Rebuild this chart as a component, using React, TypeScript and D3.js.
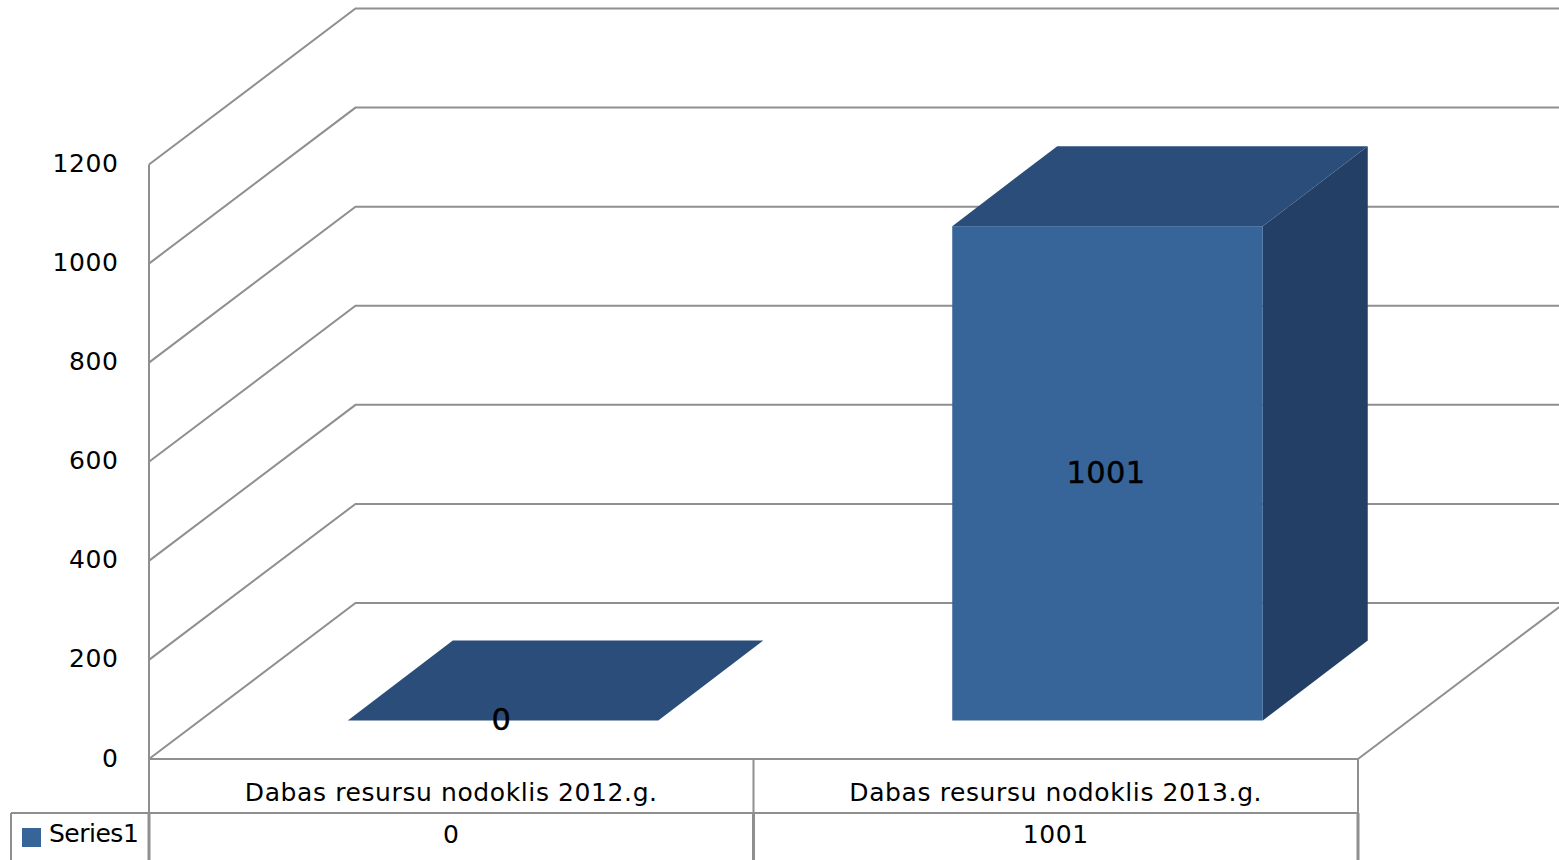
import React from "react";
import * as d3 from "d3";

const categories = ["Dabas resursu nodoklis 2012.g.", "Dabas resursu nodoklis 2013.g."];
const seriesName = "Series1";
const seriesValues = [0, 1001];
const yTicks = [0, 200, 400, 600, 800, 1000, 1200];

const W = 1559;
const H = 860;
const FONT = "'DejaVu Sans', sans-serif";
const GRID = "#8f8f8f";
const FRONT = "#376499";
const TOP = "#2b4d7a";
const SIDE = "#243f66";

// oblique offset of the back wall, and of the bar depth
const wallDx = 206.5;
const wallDy = -156;
const barDx = 105;
const barDy = -80;

const x = d3.scaleBand<string>().domain(categories).range([149, 1358]);
const y = d3.scaleLinear().domain([0, 1200]).range([759, 164.5]);
// bars stand on a floor line nearer the back wall
const barY = d3.scaleLinear().domain([0, 1200]).range([720.5, 127.9]);
const barW = 310.5;
const barShift = 51.75;

const poly = (pts: [number, number][]) => d3.line()(pts) + "Z";

export default function App() {
  const xLeft = x.range()[0];
  const xRight = x.range()[1];
  const y0 = y(0);
  const rowY = 813;

  return (
    <svg
      width={W}
      height={H}
      viewBox={`0 0 ${W} ${H}`}
      style={{ position: "absolute", left: 0, top: 0, background: "#fff" }}
      fontFamily={FONT}
    >
      {/* walls */}
      <g fill="none" stroke={GRID} strokeWidth={2}>
        {yTicks.map((t) => (
          <path
            key={t}
            d={
              d3.line()([
                [xLeft, y(t)],
                [xLeft + wallDx, y(t) + wallDy],
                [xRight + wallDx, y(t) + wallDy],
              ]) as string
            }
          />
        ))}
        <line x1={xLeft} x2={xLeft} y1={y(1200)} y2={rowY} />
        <line x1={xRight} x2={xRight + wallDx} y1={y0} y2={y0 + wallDy} />
      </g>

      {/* bars */}
      {categories.map((c, i) => {
        const cx = (x(c) as number) + x.bandwidth() / 2 + barShift;
        const l = cx - barW / 2;
        const r = cx + barW / 2;
        const b = barY(0);
        const t = barY(seriesValues[i]);
        return (
          <g key={c}>
            <path
              d={poly([
                [r, t],
                [r + barDx, t + barDy],
                [r + barDx, b + barDy],
                [r, b],
              ])}
              fill={SIDE}
            />
            <path
              d={poly([
                [l, t],
                [l + barDx, t + barDy],
                [r + barDx, t + barDy],
                [r, t],
              ])}
              fill={TOP}
            />
            <rect x={l} y={t} width={barW} height={b - t} fill={FRONT} />
            <text
              x={cx - 1.5}
              y={(b + t) / 2 + 9.5}
              textAnchor="middle"
              fontSize={30.5}
              letterSpacing={0.4}
              stroke="#000"
              strokeWidth={0.4}
              fill="#000"
            >
              {seriesValues[i]}
            </text>
          </g>
        );
      })}

      {/* y axis labels */}
      <g fontSize={25} letterSpacing={0.6} textAnchor="end" fill="#000">
        {yTicks.map((t) => (
          <text key={t} x={118.5} y={y(t) + 7.5}>
            {t}
          </text>
        ))}
      </g>

      {/* data table */}
      <g fill="none" stroke={GRID} strokeWidth={2}>
        <line x1={xLeft} x2={xRight} y1={y0} y2={y0} />
        <line x1={11} x2={xRight} y1={rowY} y2={rowY} />
        <line x1={11} x2={11} y1={rowY} y2={H} />
        {categories.map((c) => (
          <line key={c} x1={x(c)} x2={x(c)} y1={y0} y2={rowY} />
        ))}
        <line x1={xRight} x2={xRight} y1={y0} y2={rowY} />
      </g>
      {/* lower table row has the heavier rules */}
      <g fill="none" stroke={GRID} strokeWidth={3}>
        {categories.map((c) => (
          <line key={c} x1={x(c)} x2={x(c)} y1={rowY} y2={H} />
        ))}
        <line x1={xRight} x2={xRight} y1={rowY} y2={H} />
      </g>
      <g fontSize={25} letterSpacing={0.6} textAnchor="middle" fill="#000">
        {categories.map((c, i) => {
          const cx = (x(c) as number) + x.bandwidth() / 2;
          return (
            <g key={c}>
              <text x={cx} y={800.5}>
                {c}
              </text>
              <text x={cx} y={842.5}>
                {seriesValues[i]}
              </text>
            </g>
          );
        })}
      </g>
      <rect x={22} y={828} width={19} height={19} fill={FRONT} />
      <text x={49} y={841.5} fontSize={25} letterSpacing={-0.5} fill="#000">
        {seriesName}
      </text>
    </svg>
  );
}
